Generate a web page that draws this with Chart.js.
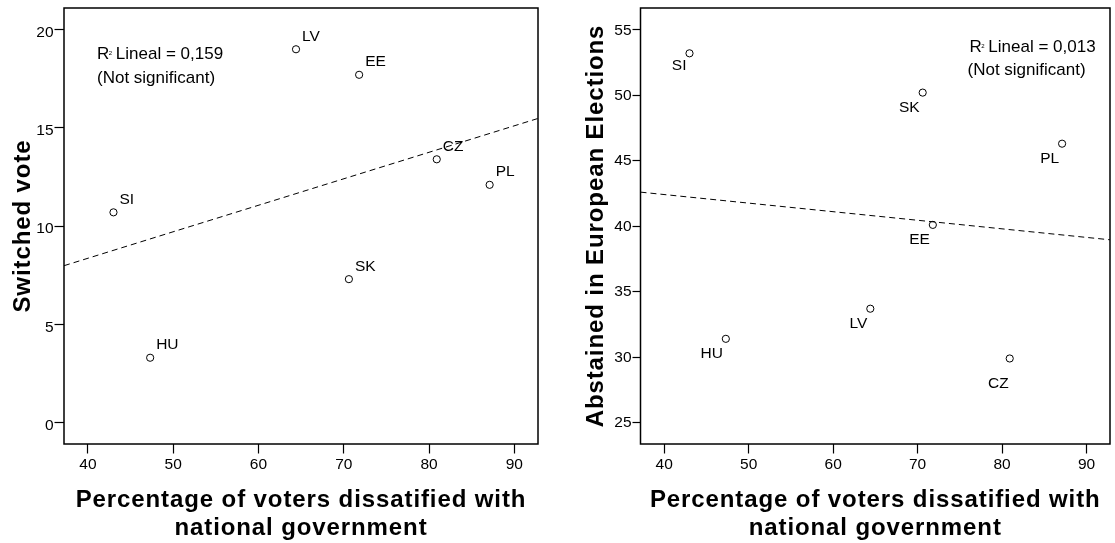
<!DOCTYPE html>
<html><head><meta charset="utf-8">
<script src="https://cdn.jsdelivr.net/npm/chart.js@4"></script>
<style>
html,body{margin:0;padding:0;background:#fff;}
#wrap{position:relative;width:1115px;height:543px;overflow:hidden;background:#fff;}
.box{position:absolute;top:0;height:543px;width:560px;}
#b1{left:0;}
#b2{left:555px;}
</style></head><body>
<div id="wrap"><div class="box" id="b1"><canvas id="c1"></canvas></div><div class="box" id="b2"><canvas id="c2"></canvas></div></div>
<script>
// ---- data ----
const countries = ['SI', 'HU', 'LV', 'SK', 'EE', 'CZ', 'PL'];
const dissatisfied = [43.0, 47.3, 64.4, 70.6, 71.8, 80.9, 87.1];
const switchedVote = [10.7, 3.3, 19.0, 7.3, 17.7, 13.4, 12.1];
const abstainedEP = [53.2, 31.4, 33.7, 50.2, 40.1, 29.9, 46.3];
const xTicks = [40, 50, 60, 70, 80, 90];
const switchedTicks = [0, 5, 10, 15, 20];
const abstainedTicks = [25, 30, 35, 40, 45, 50, 55];
const xTitle = ['Percentage of voters dissatified with', 'national government'];
const switchedTitle = 'Switched vote';
const abstainedTitle = 'Abstained in European Elections';
const switchedR2 = '0,159';
const abstainedR2 = '0,013';
const noteText = '(Not significant)';

const FAM = '"Liberation Sans", Arial, Helvetica, sans-serif';

// wider bold titles (the reference's bold face is slightly stretched)
const origDrawTitle = Chart.Scale.prototype.drawTitle;
Chart.Scale.prototype.drawTitle = function () {
  const c = this.ctx;
  const prev = c.letterSpacing;
  c.letterSpacing = '0.9px';
  origDrawTitle.apply(this, arguments);
  c.letterSpacing = prev || '0px';
};

function linearFit(xs, ys) {
  const n = xs.length;
  const mx = xs.reduce((a, b) => a + b, 0) / n;
  const my = ys.reduce((a, b) => a + b, 0) / n;
  let sxy = 0, sxx = 0;
  for (let i = 0; i < n; i++) { sxy += (xs[i] - mx) * (ys[i] - my); sxx += (xs[i] - mx) ** 2; }
  const b = sxy / sxx;
  return x => my + b * (x - mx);
}

function noPad(s) { s.paddingTop = 0; s.paddingBottom = 0; s.paddingLeft = 0; s.paddingRight = 0; }

const framePlugin = {
  id: 'frame',
  afterDraw(chart) {
    const { ctx, chartArea: a } = chart;
    ctx.save();
    ctx.strokeStyle = '#000';
    ctx.lineWidth = 1.5;
    ctx.strokeRect(a.left, a.top, a.right - a.left, a.bottom - a.top);
    ctx.restore();
  }
};

const labelPlugin = {
  id: 'ptlabels',
  afterDatasetsDraw(chart, args, opts) {
    const { ctx, chartArea: a } = chart;
    const meta = chart.getDatasetMeta(1);
    ctx.save();
    ctx.letterSpacing = '0px';
    ctx.fillStyle = '#000';
    ctx.font = '15.5px ' + FAM;
    ctx.textAlign = opts.align;
    ctx.textBaseline = 'alphabetic';
    meta.data.forEach((el, i) => {
      const name = countries[i];
      const off = (opts.special && opts.special[name]) || [opts.dx, opts.dy];
      ctx.fillText(name, el.x + off[0], el.y + off[1]);
    });
    // R² note
    const nx = a.left + opts.noteX, ny = a.top + opts.noteY;
    ctx.textAlign = 'left';
    ctx.font = '17px ' + FAM;
    ctx.fillText('R', nx, ny);
    const rw = ctx.measureText('R').width;
    ctx.font = '6px ' + FAM;
    ctx.fillText('2', nx + rw - 0.5, ny - 4);
    const w2 = ctx.measureText('2').width;
    ctx.font = '17px ' + FAM;
    ctx.fillText(' Lineal = ' + opts.r2, nx + rw + w2 - 1.5, ny);
    ctx.fillText(noteText, nx + opts.note2dx, ny + 23.5);
    ctx.restore();
  }
};

function makeChart(id, ys, yTicks, yMin, yMax, yTitle, yWidth, yTitlePad, padRight, yTickLen, yLabelOffset, labelOpts) {
  const xMin = 37.2, xMax = 92.77;
  const f = linearFit(dissatisfied, ys);
  const pts = dissatisfied.map((x, i) => ({ x: x, y: ys[i] }));
  return new Chart(document.getElementById(id), {
    type: 'scatter',
    data: {
      datasets: [
        { type: 'line', data: [{ x: xMin, y: f(xMin) }, { x: xMax, y: f(xMax) }], borderColor: '#000',
          borderWidth: 1, borderDash: [6, 4], pointRadius: 0, fill: false, tension: 0 },
        { data: pts, pointRadius: 3.6, pointBorderWidth: 1, pointBorderColor: '#000',
          pointBackgroundColor: 'rgba(255,255,255,0)', borderColor: '#000', showLine: false }
      ]
    },
    options: {
      responsive: true, maintainAspectRatio: false, animation: false,
      layout: { padding: { top: 8, right: padRight, left: 0, bottom: 0 } },
      plugins: { legend: { display: false }, tooltip: { enabled: false }, ptlabels: labelOpts },
      scales: {
        x: {
          type: 'linear', min: xMin, max: xMax,
          afterBuildTicks: s => { s.ticks = xTicks.map(v => ({ value: v })); },
          afterFit: s => { s.height = 99; noPad(s); },
          grid: { drawOnChartArea: false, drawTicks: true, tickLength: 9.5, tickColor: '#000', tickWidth: 1.2 },
          border: { display: false },
          ticks: { color: '#000', font: { size: 15.5, family: FAM }, padding: 2, maxRotation: 0, autoSkip: false },
          title: { display: true, text: xTitle, color: '#000',
            font: { size: 24, weight: 'bold', family: FAM, lineHeight: 1.154 }, padding: { top: 0, bottom: 1 } }
        },
        y: {
          type: 'linear', min: yMin, max: yMax,
          afterBuildTicks: s => { s.ticks = yTicks.map(v => ({ value: v })); },
          afterFit: s => { s.width = yWidth; noPad(s); },
          grid: { drawOnChartArea: false, drawTicks: true, tickLength: yTickLen, tickColor: '#000', tickWidth: 1.2 },
          border: { display: false },
          ticks: { color: '#000', font: { size: 15.5, family: FAM }, padding: 1, autoSkip: false, labelOffset: yLabelOffset },
          title: { display: true, text: yTitle, color: '#000',
            font: { size: 24, weight: 'bold', family: FAM, lineHeight: 1.2 }, padding: { top: yTitlePad, bottom: 0 } }
        }
      }
    },
    plugins: [framePlugin, labelPlugin]
  });
}

makeChart('c1', switchedVote, switchedTicks, -1.09, 21.1, switchedTitle, 64, 8.6, 22, 9.5, 3,
  { align: 'left', dx: 6, dy: -8.5, noteX: 33, noteY: 51, r2: switchedR2, note2dx: 0 });
makeChart('c2', abstainedEP, abstainedTicks, 23.37, 56.66, abstainedTitle, 85.5, 26.6, 2, 8, 0.5,
  { align: 'right', dx: -3, dy: 19, special: { CZ: [-1, 30], SI: [-3, 17] }, noteX: 329, noteY: 43.7, r2: abstainedR2, note2dx: -2 });
</script>
</body></html>
